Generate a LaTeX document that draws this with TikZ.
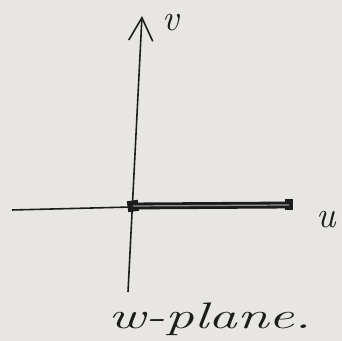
\documentclass[tikz,border=0pt]{standalone}
\usepackage{xcolor}
\usetikzlibrary{arrows.meta}
\definecolor{sketchPaper}{HTML}{E8E6E2}
\definecolor{sketchInk}{HTML}{1C1C1C}
\tikzset{
  sketchaxis/.style={draw=sketchInk, line width=0.9pt},
  sketchray/.style={draw=sketchInk, line width=1.6pt, double=sketchPaper!60!sketchInk,
    double distance=0.7pt},
  sketchend/.style={fill=sketchInk, minimum size=2.2mm, inner sep=0pt},
  sketchlabel/.style={font=\itshape\fontsize{21}{23}\selectfont, text=sketchInk,
    inner sep=0pt},
}

\begin{document}
\begin{tikzpicture}[x=0.02cm,y=0.02cm]
  \fill[sketchPaper] (0,0) rectangle (342,341);
  \path[use as bounding box] (0,0) rectangle (342,341);

  % axes of the w-plane
  \coordinate (vfoot) at (128,49);
  \coordinate (vtip) at (142,325);
  \coordinate (uleft) at (12,131);
  \coordinate (origin) at (132,134);
  \draw[sketchaxis,-{Straight Barb[length=4.6mm,width=4.8mm,line width=0.9pt]}]
    (vfoot) -- (vtip);
  \draw[sketchaxis] (uleft) -- (origin);

  % thick ray along the positive u axis
  \node[sketchend,rotate=8] (rayA) at (133,135) {};
  \node[sketchend,minimum width=1.6mm] (rayB) at (289,136) {};
  \draw[sketchray] (rayA.center) -- (rayB.center);

  % labels
  \node[sketchlabel] (vlab) at (171,318) {v};
  \node[sketchlabel] (ulab) at (326,121) {u};
  \node[sketchlabel,xscale=1.55,transform shape] (plane) at (210,22) {w-plane.};
\end{tikzpicture}
\end{document}
